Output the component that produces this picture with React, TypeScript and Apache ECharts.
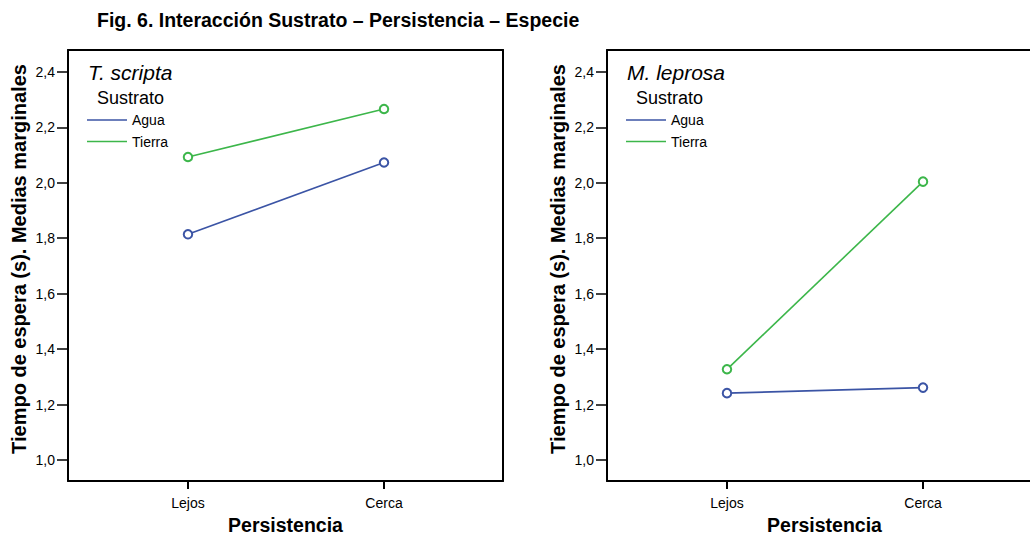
import React, { useEffect, useRef } from "react";
import * as echarts from "echarts";

const persistencia = ["Lejos", "Cerca"];
const sustrato = ["Agua", "Tierra"];
const yTicks = [1.0, 1.2, 1.4, 1.6, 1.8, 2.0, 2.2, 2.4];

// T. scripta
const scriptaAgua = [1.814, 2.073];
const scriptaTierra = [2.093, 2.266];
// M. leprosa
const leprosaAgua = [1.241, 1.261];
const leprosaTierra = [1.327, 2.004];

const especies = ["T. scripta", "M. leprosa"];
const title = "Fig. 6. Interacción Sustrato – Persistencia – Especie";
const yName = "Tiempo de espera (s). Medias marginales";
const xName = "Persistencia";

const BLUE = "#3b54a5";
const GREEN = "#3cb64a";
const FONT = "Liberation Sans, Arial, sans-serif";
const X_MIN = -0.612;
const X_MAX = 1.607;
const Y_MIN = 0.924;
const Y_MAX = 2.479;

export default function App() {
  const ref = useRef<HTMLDivElement>(null);
  useEffect(() => {
    if (!ref.current) return;
    const chart = echarts.init(ref.current, null, { renderer: "svg" });
    const grids = [
      { left: 68, top: 50, width: 435, height: 431 },
      { left: 607, top: 50, width: 435, height: 431 },
    ];
    const border = { show: true, onZero: false, lineStyle: { color: "#000", width: 2 } };
    const toPts = (arr: number[]) => arr.map((v, i) => [i, v]);
    const mkSeries = (name: string, color: string, data: number[], idx: number) => ({
      type: "line",
      name,
      xAxisIndex: idx,
      yAxisIndex: idx,
      data: toPts(data),
      symbol: "emptyCircle",
      symbolSize: 8.5,
      showSymbol: true,
      clip: false,
      color,
      lineStyle: { color, width: 1.6 },
      itemStyle: { color, borderWidth: 1.6 },
      emphasis: { disabled: true },
      z: 3,
    });
    const mainX = grids.map((_, i) => ({
      type: "value",
      gridIndex: i,
      position: "bottom",
      min: X_MIN,
      max: X_MAX,
      axisLine: border,
      axisTick: {
        show: true,
        length: 8,
        customValues: [0, 1],
        lineStyle: { color: "#000", width: 2 },
      },
      axisLabel: {
        customValues: [0, 1],
        formatter: (v: number) => persistencia[Math.round(v)] ?? "",
        fontSize: 14,
        color: "#000",
        margin: 15,
        fontFamily: FONT,
      },
      splitLine: { show: false },
      splitArea: { show: false },
      name: xName,
      nameLocation: "middle",
      nameGap: 34,
      nameTextStyle: { fontSize: 19.5, fontWeight: "bold", color: "#000", fontFamily: FONT },
    }));
    const topX = grids.map((_, i) => ({
      type: "value",
      gridIndex: i,
      position: "top",
      min: X_MIN,
      max: X_MAX,
      axisLine: border,
      axisTick: { show: false },
      axisLabel: { show: false },
      splitLine: { show: false },
    }));
    const mainY = grids.map((_, i) => ({
      type: "value",
      gridIndex: i,
      position: "left",
      min: Y_MIN,
      max: Y_MAX,
      axisLine: border,
      axisTick: {
        show: true,
        length: 11,
        customValues: yTicks,
        lineStyle: { color: "#000", width: 1.5 },
      },
      axisLabel: {
        customValues: yTicks,
        formatter: (v: number) => v.toFixed(1).replace(".", ","),
        fontSize: 14,
        color: "#000",
        margin: 13,
        fontFamily: FONT,
      },
      splitLine: { show: false },
      name: yName,
      nameLocation: "middle",
      nameGap: 39,
      nameTextStyle: {
        fontSize: 20,
        fontWeight: "bold",
        color: "#000",
        fontFamily: FONT,
        padding: [0, 0, 0, 13],
      },
    }));
    const rightY = [
      {
        type: "value",
        gridIndex: 0,
        position: "right",
        min: Y_MIN,
        max: Y_MAX,
        axisLine: border,
        axisTick: { show: false },
        axisLabel: { show: false },
        splitLine: { show: false },
      },
    ];
    const option: any = {
      animation: false,
      backgroundColor: "#fff",
      textStyle: { fontFamily: FONT },
      grid: grids.map((g) => ({
        ...g,
        show: false,
        containLabel: false,
        outerBoundsMode: "none",
      })),
      xAxis: [...mainX, ...topX],
      yAxis: [...mainY, ...rightY],
      legend: grids.map((g) => ({
        data: sustrato,
        orient: "vertical",
        left: g.left + 19,
        top: 113,
        padding: 0,
        icon: "rect",
        itemWidth: 40,
        itemHeight: 1.6,
        itemGap: 7.5,
        selectedMode: false,
        textStyle: { fontSize: 14, color: "#000", fontFamily: FONT },
      })),
      graphic: [
        {
          type: "text",
          x: 97,
          y: 20,
          style: {
            text: title,
            fontSize: 19.5,
            fontWeight: "bold",
            fill: "#000",
            fontFamily: FONT,
            verticalAlign: "middle",
          },
        },
        ...grids.flatMap((g, i) => [
          {
            type: "text",
            x: g.left + 20,
            y: 72,
            style: {
              text: especies[i],
              fontSize: 21,
              fontStyle: "italic",
              fill: "#000",
              fontFamily: FONT,
              verticalAlign: "middle",
            },
          },
          {
            type: "text",
            x: g.left + 29,
            y: 97.5,
            style: {
              text: "Sustrato",
              fontSize: 18,
              fill: "#000",
              fontFamily: FONT,
              verticalAlign: "middle",
            },
          },
        ]),
      ],
      series: [
        mkSeries(sustrato[0], BLUE, scriptaAgua, 0),
        mkSeries(sustrato[1], GREEN, scriptaTierra, 0),
        mkSeries(sustrato[0], BLUE, leprosaAgua, 1),
        mkSeries(sustrato[1], GREEN, leprosaTierra, 1),
      ],
    };
    chart.setOption(option);
    return () => chart.dispose();
  }, []);
  return (
    <div style={{ position: "fixed", left: 0, top: 0, width: 1030, height: 536, overflow: "hidden", background: "#fff" }}>
      <div ref={ref} style={{ width: 1030, height: 536 }} />
    </div>
  );
}
